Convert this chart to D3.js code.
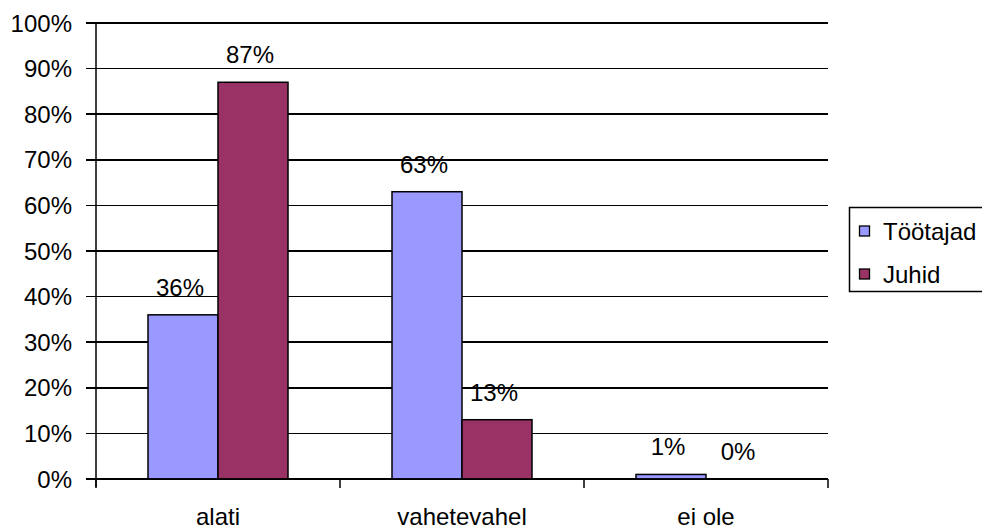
<!DOCTYPE html>
<html><head><meta charset="utf-8">
<script src="https://cdn.jsdelivr.net/npm/d3@7"></script>
<style>body{margin:0;background:#fff}svg{display:block}text{font-family:"Liberation Sans",Arial,sans-serif;fill:#000}</style>
</head><body>
<script>
const categories = ["alati", "vahetevahel", "ei ole"];
const seriesNames = ["Töötajad", "Juhid"];
const tootajad = [36, 63, 1];
const juhid = [87, 13, 0];
const yTicks = [0,10,20,30,40,50,60,70,80,90,100];
const colors = ["#9999FF", "#993366"];

const W = 982, H = 530;
const svg = d3.select("body").append("svg").attr("width", W).attr("height", H);
const L = 96, R = 828, T = 23, B = 479;
const FS = 24;
const x = d3.scaleBand().domain(categories).range([L, R]).paddingInner(0).paddingOuter(0);
const y = d3.scaleLinear().domain([0, 100]).range([B, T]);

// gridlines
svg.append("g").selectAll("line").data(yTicks).join("line")
  .attr("x1", L-10).attr("x2", R).attr("y1", d=>y(d)).attr("y2", d=>y(d))
  .attr("stroke", "#000").attr("stroke-width", 1.5).attr("shape-rendering","crispEdges");

// y labels
svg.append("g").selectAll("text").data(yTicks).join("text")
  .attr("x", 72).attr("y", d=>y(d)+8.5).attr("text-anchor","end").attr("font-size", FS)
  .text(d=>d+"%");

// bars
const data = categories.map((c,i)=>({c, vals:[tootajad[i], juhid[i]]}));
const groups = svg.append("g").selectAll("g").data(data).join("g")
  .attr("transform", d=>`translate(${x(d.c)},0)`);
const bw = 70, gOff = (x.bandwidth() - 2*bw)/2;
groups.selectAll("rect").data(d=>d.vals.map((v,k)=>({v,k}))).join("rect")
  .attr("x", d=>gOff + d.k*bw).attr("width", bw)
  .attr("y", d=>y(d.v)).attr("height", d=>B - y(d.v))
  .attr("fill", d=>colors[d.k]).attr("stroke","#000").attr("stroke-width",1.5);
groups.selectAll("text").data(d=>d.vals.map((v,k)=>({v,k}))).join("text")
  .attr("x", d=>gOff + d.k*bw + bw/2 - 3).attr("y", d=>y(d.v)-19)
  .attr("text-anchor","middle").attr("font-size",FS).text(d=>d.v+"%");

// axes lines
svg.append("line").attr("x1",L).attr("x2",L).attr("y1",T).attr("y2",B+8).attr("stroke","#000").attr("stroke-width",1.5);
svg.append("line").attr("x1",L).attr("x2",R).attr("y1",B).attr("y2",B).attr("stroke","#000").attr("stroke-width",1.5);
const xt = categories.map(c=>x(c)).concat([R]);
svg.append("g").selectAll("line").data(xt).join("line")
  .attr("x1",d=>d).attr("x2",d=>d).attr("y1",B).attr("y2",B+9).attr("stroke","#000").attr("stroke-width",1.5);
svg.append("g").selectAll("text").data(categories).join("text")
  .attr("x", d=>x(d)+x.bandwidth()/2).attr("y", 525).attr("text-anchor","middle").attr("font-size",FS).text(d=>d);

// legend
const lg = svg.append("g");
lg.append("rect").attr("x",849.5).attr("y",207.5).attr("width",140).attr("height",84).attr("fill","#fff").attr("stroke","#000").attr("stroke-width",1.5);
seriesNames.forEach((s,k)=>{
  const cy = 231 + k*43;
  lg.append("rect").attr("x",859.5).attr("y",cy-5).attr("width",10).attr("height",10).attr("fill",colors[k]).attr("stroke","#000").attr("stroke-width",1.3);
  lg.append("text").attr("x",883).attr("y",cy+9).attr("font-size",FS).text(s);
});
</script>
</body></html>
